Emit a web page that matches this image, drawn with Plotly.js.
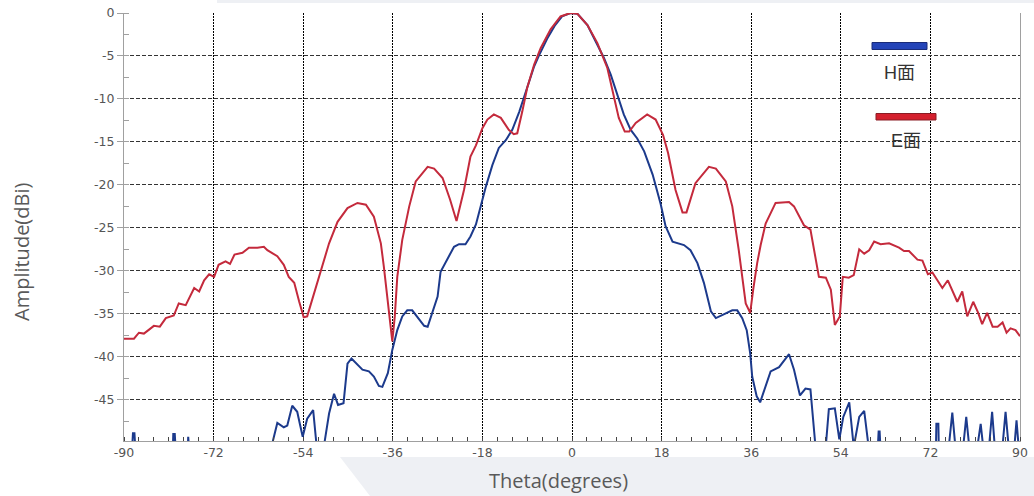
<!DOCTYPE html>
<html>
<head>
<meta charset="utf-8">
<script src="https://cdn.plot.ly/plotly-3.0.1.min.js"></script>
<style>html,body{margin:0;padding:0;background:#fff;}#chart{width:1034px;height:496px;}</style>
</head>
<body>
<div id="chart"></div>
<script>
// E-plane (red) pattern
const eTheta = [-90,-88.0,-87.0,-86.0,-84.0,-82.8,-81.6,-80.0,-79.0,-77.6,-75.9,-74.9,-73.9,-72.9,-71.9,-71.0,-69.6,-68.7,-67.8,-66.2,-64.9,-63.2,-61.9,-61.2,-59.2,-57.9,-56.9,-55.8,-54.8,-53.9,-53.2,-51.8,-50.1,-48.8,-47.1,-45.1,-43.1,-41.4,-39.8,-38.4,-37.8,-37.0,-36.1,-35.6,-35.1,-34.1,-32.7,-31.4,-29.0,-27.7,-26.0,-24.5,-23.2,-21.7,-20.4,-19.3,-18.0,-17.0,-15.7,-14.3,-12.7,-11.7,-11.0,-10.0,-9.0,-7.6,-6.3,-4.3,-2.3,-0.3,1.1,3.1,5.1,7.1,8.4,9.4,10.6,11.5,12.8,15.1,16.8,18.3,19.3,20.8,22.2,23.0,24.8,27.5,28.9,30.9,32.2,33.5,34.9,35.8,36.4,37.2,37.9,38.9,40.9,43.6,44.6,46.6,47.9,48.8,49.6,51.0,52.0,52.8,53.8,54.4,55.6,56.6,57.7,58.7,59.7,60.7,62.0,63.7,65.7,66.7,67.7,69.4,70.4,71.5,72.4,73.4,74.4,75.5,76.7,77.4,78.4,79.4,80.6,81.6,82.4,83.4,84.5,85.5,86.5,87.3,88.1,89.1,90.0];
const eAmp = [-37.9,-37.9,-37.2,-37.3,-36.4,-36.5,-35.5,-35.2,-33.8,-34.0,-32.0,-32.4,-31.1,-30.4,-30.7,-29.3,-28.9,-29.2,-28.1,-27.9,-27.3,-27.3,-27.2,-27.6,-28.3,-29.3,-30.7,-31.4,-33.6,-35.4,-35.3,-32.6,-29.1,-26.8,-24.3,-22.7,-22.1,-22.3,-23.7,-26.8,-29.5,-33.8,-38.2,-35.3,-30.7,-26.4,-22.5,-19.6,-17.9,-18.1,-19.2,-21.7,-24.2,-20.6,-16.7,-15.4,-13.4,-12.4,-11.8,-12.2,-13.6,-14.1,-14.0,-11.5,-8.7,-6.0,-4.1,-1.9,-0.4,0,-0.1,-1.4,-3.5,-6.4,-9.5,-12.2,-13.8,-13.8,-12.8,-11.8,-12.4,-14.2,-16.3,-20.6,-23.2,-23.2,-19.8,-17.9,-18.1,-19.6,-22.5,-27.6,-33.8,-34.9,-32.2,-29.1,-27.0,-24.5,-22.1,-22.0,-22.5,-24.7,-25.2,-28.3,-30.7,-30.8,-32.2,-36.3,-35.3,-30.7,-30.8,-30.5,-27.5,-28.0,-27.6,-26.6,-26.9,-26.8,-27.3,-27.7,-27.7,-28.7,-28.8,-30.4,-30.2,-31.1,-32.0,-31.1,-32.8,-33.6,-32.4,-35.3,-33.6,-34.9,-36.2,-34.9,-36.5,-36.5,-36.0,-37.2,-36.7,-36.9,-37.6];

// H-plane (blue) pattern; values below the axis floor are clipped by the plot area
const hTheta = [-90,-88.4,-88.2,-87.9,-87.7,-80.2,-80.1,-79.8,-79.6,-77.2,-77.1,-76.9,-60.6,-59.2,-57.9,-57.2,-56.2,-55.2,-54.6,-54.1,-53.2,-52.0,-51.2,-50.0,-48.8,-47.8,-47.0,-45.9,-45.1,-44.3,-42.1,-40.8,-39.8,-38.8,-38.1,-37.0,-36.1,-35.1,-34.1,-33.1,-32.1,-31.1,-29.7,-29.0,-28.0,-27.0,-26.4,-25.0,-23.7,-22.7,-21.4,-20.4,-19.3,-18.3,-17.3,-16.0,-14.7,-13.3,-12.0,-10.6,-9.3,-7.6,-6.6,-5.0,-3.5,-2.0,-0.3,1.1,3.1,5.0,6.4,7.8,9.1,10.4,11.8,13.1,14.5,16.2,17.8,18.8,20.2,22.5,23.8,25.2,26.5,27.9,28.9,30.5,32.2,33.2,34.2,35.1,35.8,36.2,37.1,37.8,38.9,39.9,41.6,43.6,44.6,45.8,46.9,47.9,49.0,50.9,51.6,52.8,53.7,54.5,55.7,56.6,57.7,58.7,59.7,61.4,61.6,61.8,62.0,73.1,73.2,73.6,73.7,75.6,76.4,77.1,78.5,79.2,79.9,81.3,82.1,82.7,83.7,84.4,85.0,86.4,87.1,87.8,88.8,89.3,89.8,90];
const hAmp = [-51,-51,-48.9,-48.9,-51,-51,-49.0,-49.0,-51,-51,-49.3,-51,-51,-47.7,-48.2,-48.0,-45.7,-46.4,-48.0,-49.3,-47.2,-46.2,-51,-51,-46.6,-44.3,-45.6,-45.4,-40.8,-40.2,-41.5,-41.7,-42.3,-43.4,-43.5,-41.9,-39.2,-36.9,-35.3,-34.6,-34.6,-35.3,-36.4,-36.5,-34.6,-33.0,-30.1,-28.5,-27.2,-26.9,-26.9,-26.0,-24.6,-22.4,-20.2,-17.7,-15.7,-14.8,-13.6,-11.5,-9.1,-6.2,-4.9,-3.0,-1.5,-0.4,0,-0.1,-1.4,-3.6,-5.2,-7.2,-9.5,-11.8,-13.6,-14.6,-16.1,-18.8,-22.2,-24.8,-26.6,-27.0,-27.6,-29.1,-31.4,-34.7,-35.5,-35.1,-34.6,-34.6,-35.5,-36.9,-39.6,-42.3,-44.6,-45.3,-43.5,-41.7,-41.2,-39.7,-41.5,-44.5,-43.7,-43.8,-51,-51,-46.1,-46.0,-49.6,-47.0,-45.3,-50.5,-47.0,-46.3,-51,-51,-48.7,-48.7,-51,-51,-47.8,-47.8,-51,-51,-46.5,-51,-51,-47.0,-51,-51,-47.8,-51,-51,-46.4,-51,-51,-46.4,-51,-51,-47.4,-51,-51];

const xTickVals = [-90,-72,-54,-36,-18,0,18,36,54,72,90];
const xTickText = ["-90","-72","-54","-36","-18","0","18","36","54","72","90"];
const yTickVals = [0,-5,-10,-15,-20,-25,-30,-35,-40,-45];
const yTickText = ["0","-5","-10","-15","-20","-25","-30","-35","-40","-45"];
const seriesNames = ["H面","E面"];
const xTitle = "Theta(degrees)";
const yTitle = "Amplitude(dBi)";

const W = 1034, H = 496;
const M = {l:124, r:14, t:13, b:55};
const pw = W - M.l - M.r, ph = H - M.t - M.b;
const px = x => (x - M.l) / pw;
const py = y => (H - M.b - y) / ph;

const tickFont = {family:'DejaVu Sans, sans-serif', size:12.5, color:'#555555'};

const traces = [
  {x: hTheta, y: hAmp, mode:'lines', name: seriesNames[0], line:{color:'#1c3a8c', width:2}, hoverinfo:'skip', showlegend:false},
  {x: eTheta, y: eAmp, mode:'lines', name: seriesNames[1], line:{color:'#c42a3c', width:2}, hoverinfo:'skip', showlegend:false}
];

const layout = {
  width: W, height: H,
  margin: {l:M.l, r:M.r, t:M.t, b:M.b, pad:0},
  paper_bgcolor:'#ffffff', plot_bgcolor:'#ffffff',
  showlegend:false,
  xaxis: {
    range:[-90,90], tickmode:'array', tickvals:xTickVals, ticktext:xTickText,
    ticks:'', showline:true, linecolor:'#a0a0a0', linewidth:1, mirror:false,
    showgrid:true, gridcolor:'#000000', gridwidth:1, griddash:'2px,1px',
    zeroline:false, fixedrange:true, tickfont:tickFont,
    minor:{dtick:3, tick0:0, ticks:'inside', ticklen:4, tickwidth:1, tickcolor:'#444444', showgrid:false}
  },
  yaxis: {
    range:[-49.8,0], tickmode:'array', tickvals:yTickVals, ticktext:yTickText,
    ticks:'outside', ticklen:6, tickcolor:'#a0a0a0', showline:true, linecolor:'#a0a0a0', linewidth:1, mirror:true,
    showgrid:true, gridcolor:'#333333', gridwidth:1, griddash:'4px,2px',
    zeroline:false, fixedrange:true, tickfont:tickFont,
    minor:{dtick:2.5, tick0:0, ticks:'inside', ticklen:5, tickwidth:1, tickcolor:'#a0a0a0', showgrid:false}
  },
  shapes: [
    {type:'path', xref:'paper', yref:'paper', layer:'below',
     path:`M ${px(340)} ${py(457)} L ${px(1034)} ${py(457)} L ${px(1034)} ${py(496)} L ${px(370)} ${py(496)} Z`,
     fillcolor:'#eef0f4', line:{width:0}},
    {type:'rect', xref:'paper', yref:'paper', layer:'below',
     x0:px(217), x1:px(1034), y0:py(3), y1:py(0), fillcolor:'#eef0f4', line:{width:0}},
    {type:'rect', xref:'paper', yref:'paper',
     x0:px(872), x1:px(927), y0:py(49.5), y1:py(42.5), fillcolor:'#2444b8', line:{color:'#1a2b78', width:1}},
    {type:'rect', xref:'paper', yref:'paper',
     x0:px(876), x1:px(936), y0:py(120), y1:py(113.5), fillcolor:'#d4202e', line:{color:'#8a1c24', width:1}}
  ],
  annotations: [
    {text: seriesNames[0], xref:'paper', yref:'paper', x:px(899), y:py(73), xanchor:'center', yanchor:'middle', showarrow:false,
     font:{family:'Liberation Sans, Noto Sans CJK SC, sans-serif', size:18, color:'#333333'}},
    {text: seriesNames[1], xref:'paper', yref:'paper', x:px(906), y:py(141), xanchor:'center', yanchor:'middle', showarrow:false,
     font:{family:'Liberation Sans, Noto Sans CJK SC, sans-serif', size:18, color:'#333333'}},
    {text: xTitle, xref:'paper', yref:'paper', x:px(558), y:py(480), xanchor:'center', yanchor:'middle', showarrow:false,
     font:{family:'Open Sans, sans-serif', size:20, color:'#595959'}},
    {text: yTitle, xref:'paper', yref:'paper', x:px(22), y:py(252), xanchor:'center', yanchor:'middle', showarrow:false, textangle:-90,
     font:{family:'Open Sans, sans-serif', size:20, color:'#595959'}}
  ]
};

Plotly.newPlot('chart', traces, layout, {displayModeBar:false, staticPlot:true});
</script>
</body>
</html>
